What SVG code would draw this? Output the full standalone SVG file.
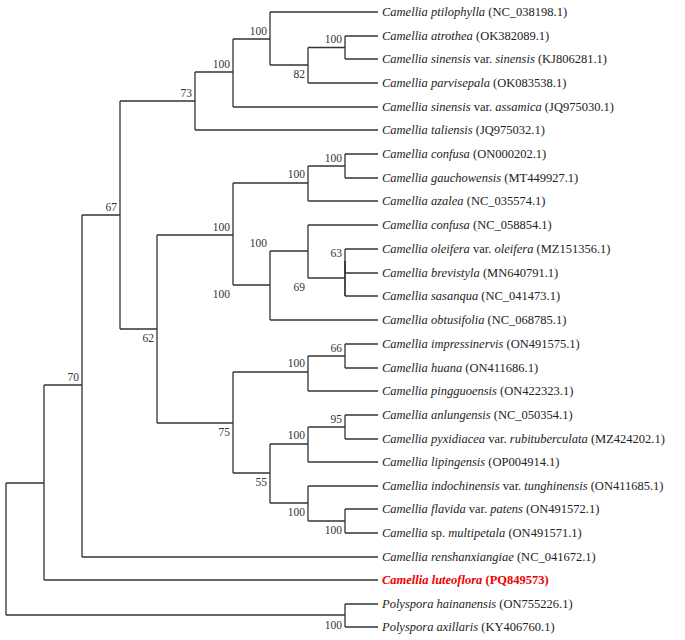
<svg xmlns="http://www.w3.org/2000/svg" width="685" height="640" viewBox="0 0 685 640">
<style>
.e{fill:none;stroke:#333;stroke-width:1.3}
.t{font-family:"Liberation Serif",serif;font-size:12.5px;fill:#222}
.b{font-family:"Liberation Serif",serif;font-size:11.5px;fill:#333;text-anchor:end}
.i{font-style:italic}
.r{fill:#e00;font-weight:bold}
</style>
<rect width="685" height="640" fill="#fff"/>
<g id="connectors" class="e">
<path d="M6,483V615M6,483H44M6,615H345"/>
<path d="M44,385V580M44,385H82M44,580H378"/>
<path d="M82,215V557M82,215H120M82,557H378"/>
<path d="M120,101V329M120,101H195M120,329H157"/>
<path d="M195,72V130M195,72H233M195,130H378"/>
<path d="M233,39V107M233,39H270M233,107H378"/>
<path d="M270,12V65M270,12H378M270,65H308"/>
<path d="M308,47.5V83M308,47.5H345M308,83H378"/>
<path d="M345,36V59M345,36H378M345,59H378"/>
<path d="M157,235V423M157,235H233M157,423H233"/>
<path d="M233,183V285M233,183H308M233,285H270"/>
<path d="M308,166V201M308,166H345M308,201H378"/>
<path d="M345,154V178M345,154H378M345,178H378"/>
<path d="M270,251V320M270,251H308M270,320H378"/>
<path d="M308,225V278M308,225H378M308,278H345"/>
<path d="M345,261V296M345,261H345M345,296H378"/>
<path d="M345,261V296"/>
<path d="M345,261H345"/>
<path d="M345,249V273M345,249H378M345,273H378"/>
<path d="M233,372V473M233,372H308M233,473H270"/>
<path d="M308,356V391M308,356H345M308,391H378"/>
<path d="M345,344V368M345,344H378M345,368H378"/>
<path d="M270,444V503M270,444H308M270,503H308"/>
<path d="M308,427V462M308,427H345M308,462H378"/>
<path d="M345,415V439M345,415H378M345,439H378"/>
<path d="M308,486V521M308,486H378M308,521H345"/>
<path d="M345,509V533M345,509H378M345,533H378"/>
<path d="M345,604V627M345,604H378M345,627H378"/>
</g>
<g id="support">
<text class="b" x="79" y="381">70</text>
<text class="b" x="117" y="211">67</text>
<text class="b" x="154" y="342">62</text>
<text class="b" x="192" y="97">73</text>
<text class="b" x="230" y="68">100</text>
<text class="b" x="267" y="35">100</text>
<text class="b" x="305" y="78">82</text>
<text class="b" x="342" y="43">100</text>
<text class="b" x="230" y="231">100</text>
<text class="b" x="305" y="178">100</text>
<text class="b" x="342" y="162">100</text>
<text class="b" x="230" y="298">100</text>
<text class="b" x="267" y="247">100</text>
<text class="b" x="305" y="291">69</text>
<text class="b" x="342" y="257">63</text>
<text class="b" x="230" y="436">75</text>
<text class="b" x="305" y="367">100</text>
<text class="b" x="342" y="352">66</text>
<text class="b" x="267" y="486">55</text>
<text class="b" x="305" y="439">100</text>
<text class="b" x="342" y="423">95</text>
<text class="b" x="305" y="516">100</text>
<text class="b" x="342" y="534">100</text>
<text class="b" x="342" y="629">100</text>
</g>
<g id="taxa" class="t">
<text id="n1" x="382" y="16"><tspan class="i">Camellia ptilophylla</tspan> (NC_038198.1)</text>
<text id="n2" x="382" y="40"><tspan class="i">Camellia atrothea</tspan> (OK382089.1)</text>
<text id="n3" x="382" y="63"><tspan class="i">Camellia sinensis</tspan> var. <tspan class="i">sinensis</tspan> (KJ806281.1)</text>
<text id="n4" x="382" y="87"><tspan class="i">Camellia parvisepala</tspan> (OK083538.1)</text>
<text id="n5" x="382" y="111"><tspan class="i">Camellia sinensis</tspan> var. <tspan class="i">assamica</tspan> (JQ975030.1)</text>
<text id="n6" x="382" y="134"><tspan class="i">Camellia taliensis</tspan> (JQ975032.1)</text>
<text id="n7" x="382" y="158"><tspan class="i">Camellia confusa</tspan> (ON000202.1)</text>
<text id="n8" x="382" y="182"><tspan class="i">Camellia gauchowensis</tspan> (MT449927.1)</text>
<text id="n9" x="382" y="205"><tspan class="i">Camellia azalea</tspan> (NC_035574.1)</text>
<text id="n10" x="382" y="229"><tspan class="i">Camellia confusa</tspan> (NC_058854.1)</text>
<text id="n11" x="382" y="253"><tspan class="i">Camellia oleifera</tspan> var. <tspan class="i">oleifera</tspan> (MZ151356.1)</text>
<text id="n12" x="382" y="277"><tspan class="i">Camellia brevistyla</tspan> (MN640791.1)</text>
<text id="n13" x="382" y="300"><tspan class="i">Camellia sasanqua</tspan> (NC_041473.1)</text>
<text id="n14" x="382" y="324"><tspan class="i">Camellia obtusifolia</tspan> (NC_068785.1)</text>
<text id="n15" x="382" y="348"><tspan class="i">Camellia impressinervis</tspan> (ON491575.1)</text>
<text id="n16" x="382" y="372"><tspan class="i">Camellia huana</tspan> (ON411686.1)</text>
<text id="n17" x="382" y="395"><tspan class="i">Camellia pingguoensis</tspan> (ON422323.1)</text>
<text id="n18" x="382" y="419"><tspan class="i">Camellia anlungensis</tspan> (NC_050354.1)</text>
<text id="n19" x="382" y="443"><tspan class="i">Camellia pyxidiacea</tspan> var. <tspan class="i">rubituberculata</tspan> (MZ424202.1)</text>
<text id="n20" x="382" y="466"><tspan class="i">Camellia lipingensis</tspan> (OP004914.1)</text>
<text id="n21" x="382" y="490"><tspan class="i">Camellia indochinensis</tspan> var. <tspan class="i">tunghinensis</tspan> (ON411685.1)</text>
<text id="n22" x="382" y="513"><tspan class="i">Camellia flavida</tspan> var. <tspan class="i">patens</tspan> (ON491572.1)</text>
<text id="n23" x="382" y="537"><tspan class="i">Camellia</tspan> sp. <tspan class="i">multipetala</tspan> (ON491571.1)</text>
<text id="n24" x="382" y="561"><tspan class="i">Camellia renshanxiangiae</tspan> (NC_041672.1)</text>
<text id="n25" x="382" y="584" class="r"><tspan class="i">Camellia luteoflora</tspan> (PQ849573)</text>
<text id="n26" x="382" y="608"><tspan class="i">Polyspora hainanensis</tspan> (ON755226.1)</text>
<text id="n27" x="382" y="631"><tspan class="i">Polyspora axillaris</tspan> (KY406760.1)</text>
</g>
</svg>
